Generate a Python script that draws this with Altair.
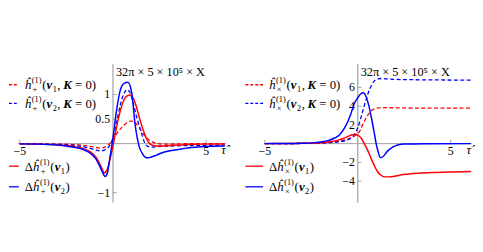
import altair as alt
import pandas as pd

# ---------------- data ----------------
# left panel: h_+
lp_tau_red_dash = [-5, -3, -2, -1.5, -1.0, -0.74, -0.5, -0.3, -0.18, 0, 0.2, 0.4, 0.6, 0.8, 1.0, 1.2, 1.4, 1.6, 1.8, 2.0, 2.3, 2.6, 3, 4, 6]
lp_val_red_dash = [0, -0.01, -0.02, -0.04, -0.07, -0.09, -0.08, -0.04, 0, 0.08, 0.2, 0.3, 0.38, 0.44, 0.46, 0.42, 0.33, 0.21, 0.12, 0.06, 0.01, -0.01, -0.01, 0.0, 0.0]

lp_tau_blue_dash = [-5, -4, -3, -2, -1.5, -1.0, -0.65, -0.4, -0.2, -0.12, 0, 0.2, 0.4, 0.6, 0.75, 0.9, 1.1, 1.3, 1.5, 1.7, 1.9, 2.1, 2.4, 3, 4, 5, 6]
lp_val_blue_dash = [-0.003, -0.006, -0.015, -0.04, -0.07, -0.12, -0.15, -0.12, -0.05, 0, 0.12, 0.45, 0.8, 1.03, 1.1, 1.05, 0.8, 0.5, 0.25, 0.02, -0.06, -0.07, -0.06, -0.05, -0.04, -0.035, -0.03]

lp_tau_red = [-5, -4, -3, -2.5, -2, -1.6, -1.2, -0.9, -0.6, -0.47, -0.3, -0.15, 0, 0.2, 0.4, 0.6, 0.8, 0.95, 1.2, 1.4, 1.6, 1.8, 2.0, 2.3, 2.6, 3, 3.5, 4, 5, 6]
lp_val_red = [-0.005, -0.01, -0.025, -0.04, -0.07, -0.1, -0.17, -0.28, -0.5, -0.6, -0.52, -0.3, -0.05, 0.35, 0.68, 0.9, 0.98, 0.99, 0.82, 0.55, 0.3, 0.1, -0.01, -0.05, -0.05, -0.04, -0.03, -0.02, -0.01, -0.01]

lp_tau_blue = [-5, -4, -3, -2.5, -2, -1.6, -1.2, -0.9, -0.6, -0.42, -0.3, -0.15, 0, 0.2, 0.4, 0.6, 0.8, 1.0, 1.2, 1.4, 1.6, 1.8, 2.0, 2.3, 2.6, 3, 3.5, 4, 5, 6]
lp_val_blue = [-0.005, -0.01, -0.03, -0.05, -0.08, -0.12, -0.2, -0.32, -0.55, -0.67, -0.6, -0.25, 0.12, 0.7, 1.1, 1.23, 1.25, 1.05, 0.35, -0.05, -0.22, -0.29, -0.28, -0.24, -0.19, -0.15, -0.12, -0.09, -0.06, -0.05]

# right panel: h_x
rp_tau_red_dash = [-5, -4, -3, -2, -1.4, -1.0, -0.7, -0.4, -0.18, 0, 0.13, 0.26, 0.4, 0.53, 0.66, 0.79, 0.92, 1.05, 1.25, 1.5, 2, 3, 4, 6.1]
rp_val_red_dash = [0, 0.0, 0.02, 0.06, 0.15, 0.28, 0.4, 0.6, 0.8, 1.05, 1.4, 2.0, 2.55, 3.0, 3.35, 3.6, 3.72, 3.8, 3.84, 3.84, 3.82, 3.8, 3.8, 3.8]

rp_tau_blue_dash = [-5, -4, -3, -2, -1.4, -1.0, -0.7, -0.4, -0.18, 0, 0.13, 0.26, 0.4, 0.53, 0.66, 0.79, 0.92, 1.1, 1.3, 1.6, 2, 3, 4, 6.1]
rp_val_blue_dash = [0, 0.0, 0.02, 0.06, 0.12, 0.2, 0.3, 0.55, 1.0, 1.7, 2.5, 3.4, 4.4, 5.2, 5.9, 6.4, 6.75, 6.92, 6.95, 6.9, 6.86, 6.82, 6.8, 6.78]

rp_tau_red = [-5, -4, -3, -2, -1.5, -1.0, -0.6, -0.3, -0.18, 0, 0.18, 0.35, 0.53, 0.7, 0.88, 1.05, 1.23, 1.46, 1.7, 1.93, 2.46, 3, 4, 5, 6.1]
rp_val_red = [0, 0.01, 0.03, 0.1, 0.2, 0.4, 0.7, 0.95, 1.0, 0.9, 0.6, 0.0, -0.7, -1.5, -2.3, -2.95, -3.35, -3.55, -3.55, -3.5, -3.3, -3.2, -3.08, -3.02, -2.98]

rp_tau_blue = [-5, -4, -3, -2.5, -2, -1.6, -1.24, -1.0, -0.7, -0.4, -0.2, 0, 0.15, 0.3, 0.45, 0.6, 0.75, 0.9, 1.0, 1.1, 1.22, 1.35, 1.6, 1.9, 2.2, 2.5, 3, 4, 6.1]
rp_val_blue = [0.0, 0.01, 0.04, 0.08, 0.18, 0.32, 0.6, 0.9, 1.7, 3.0, 4.2, 4.9, 5.3, 5.42, 5.0, 4.0, 2.6, 1.0, -0.1, -0.9, -1.5, -1.4, -0.8, -0.35, -0.12, -0.05, -0.03, -0.01, 0.0]

left_yticks = [1, 0.5, -1]
left_ytick_labels = ["1", "0.5", "\u22121"]
right_yticks = [6, 4, 2, -2, -4]
right_ytick_labels = ["6", "4", "2", "\u22122", "\u22124"]
xticks = [-5, 5]
xtick_labels = ["\u22125", "5"]
title_text = "32\u03c0 \u00d7 5 \u00d7 10\u2075 \u00d7 X"

# axis extents (data units)
left_axis_x = [-5.1, 6.05]
left_axis_y = [-1.2, 1.62]
right_axis_x = [-5.05, 6.1]
right_axis_y = [-6.3, 8.5]

# ---------------- layout ----------------
FONT = "Liberation Serif"
RED = "#ff0000"
BLUE = "#0000ff"
AXC = "#a0a0a0"
H = 232


def line_layer(xs, ys, color, dashed, xs_scale, ys_scale):
    df = pd.DataFrame({"t": xs, "v": ys})
    props = dict(color=color, strokeWidth=1.5 if not dashed else 1.3, interpolate="monotone")
    if dashed:
        props["strokeDash"] = [4, 2.5]
    return alt.Chart(df).mark_line(**props).encode(
        x=alt.X("t:Q", scale=xs_scale, axis=None),
        y=alt.Y("v:Q", scale=ys_scale, axis=None),
    )


def legend_layers(x_line0, x_line1, x_text, rows, sym):
    rules = []
    up, it, bi = [], [], []
    for (yc, color, dashed, kind, idx) in rows:
        df = pd.DataFrame({"a": [x_line0], "b": [x_line1], "y": [yc]})
        props = dict(color=color, strokeWidth=1.3)
        if dashed:
            props["strokeDash"] = [3, 2]
        rules.append(alt.Chart(df).mark_rule(**props).encode(
            x=alt.X("a:Q", scale=None), x2="b:Q", y=alt.Y("y:Q", scale=None)))
        s, s2 = 13, 8.5
        base = yc + 4.5
        x = x_text
        if kind == "delta":
            up.append((x, base, "\u0394", s))
            x += 8.3
        it.append((x, base, "h\u0302", s))
        x += 7.2
        up.append((x, base - 6, "(1)", s2))
        up.append((x + 0.8, base + 3, sym, s2))
        x += 10.6
        up.append((x, base, "(", s))
        x += 4.5
        bi.append((x, base, "v", s))
        x += 6.2
        up.append((x, base + 3, idx, s2))
        x += 4.8
        if kind == "delta":
            up.append((x, base, ")", s))
        else:
            up.append((x, base, ",", s))
            x += 6
            bi.append((x, base, "K", s))
            x += 12
            up.append((x, base, "= 0)", s))
    out = rules

    def txt(rows_, **kw):
        df = pd.DataFrame(rows_, columns=["x", "y", "txt", "s"])
        return alt.Chart(df).mark_text(font=FONT, align="left", baseline="alphabetic", color="black", **kw).encode(
            x=alt.X("x:Q", scale=None), y=alt.Y("y:Q", scale=None), text="txt:N",
            size=alt.Size("s:Q", scale=None, legend=None))
    out.append(txt(up))
    out.append(txt(it, fontStyle="italic"))
    out.append(txt(bi, fontStyle="italic", fontWeight="bold"))
    return out


def panel(W, xdom, ydom, curves, axis_x, axis_y, yt, ytl, title_y, tick_len_x, tick_len_y,
          leg, sym):
    xs = alt.Scale(domain=xdom, nice=False, zero=False)
    ys = alt.Scale(domain=ydom, nice=False, zero=False)
    layers = []
    ax_h = pd.DataFrame({"a": [axis_x[0]], "b": [axis_x[1]], "y": [0]})
    ax_v = pd.DataFrame({"a": [axis_y[0]], "b": [axis_y[1]], "x": [0]})
    layers.append(alt.Chart(ax_h).mark_rule(color=AXC, strokeWidth=1).encode(
        x=alt.X("a:Q", scale=xs, axis=None), x2="b:Q", y=alt.Y("y:Q", scale=ys, axis=None)))
    layers.append(alt.Chart(ax_v).mark_rule(color=AXC, strokeWidth=1.2).encode(
        y=alt.Y("a:Q", scale=ys, axis=None), y2="b:Q", x=alt.X("x:Q", scale=xs, axis=None)))
    yt_df = pd.DataFrame({"v": yt, "lab": ytl, "x0": [0] * len(yt), "x1": [tick_len_x] * len(yt)})
    layers.append(alt.Chart(yt_df).mark_rule(color=AXC, strokeWidth=1).encode(
        x=alt.X("x0:Q", scale=xs, axis=None), x2="x1:Q", y=alt.Y("v:Q", scale=ys, axis=None)))
    layers.append(alt.Chart(yt_df).mark_text(font=FONT, fontSize=12, align="right", baseline="middle", dx=-3, color="black").encode(
        x=alt.X("x0:Q", scale=xs, axis=None), y=alt.Y("v:Q", scale=ys, axis=None), text="lab:N"))
    xt_df = pd.DataFrame({"v": xticks, "lab": xtick_labels, "y0": [0, 0], "y1": [tick_len_y, tick_len_y]})
    layers.append(alt.Chart(xt_df).mark_rule(color=AXC, strokeWidth=1).encode(
        x=alt.X("v:Q", scale=xs, axis=None), y=alt.Y("y0:Q", scale=ys, axis=None), y2="y1:Q"))
    layers.append(alt.Chart(xt_df).mark_text(font=FONT, fontSize=12, align="center", baseline="top", dy=3, color="black").encode(
        x=alt.X("v:Q", scale=xs, axis=None), y=alt.Y("y0:Q", scale=ys, axis=None), text="lab:N"))
    tau_df = pd.DataFrame({"x": [axis_x[1]], "y": [0], "lab": ["\u03c4\u0302"]})
    layers.append(alt.Chart(tau_df).mark_text(font=FONT, fontSize=13, fontStyle="italic", align="right", baseline="top", dy=1, color="black").encode(
        x=alt.X("x:Q", scale=xs, axis=None), y=alt.Y("y:Q", scale=ys, axis=None), text="lab:N"))
    t_df = pd.DataFrame({"x": [0], "y": [title_y], "lab": [title_text]})
    layers.append(alt.Chart(t_df).mark_text(font=FONT, fontSize=12.5, align="left", baseline="middle", dx=3, color="black").encode(
        x=alt.X("x:Q", scale=xs, axis=None), y=alt.Y("y:Q", scale=ys, axis=None), text="lab:N"))
    for (cx, cy, col, dashed) in curves:
        layers.append(line_layer(cx, cy, col, dashed, xs, ys))
    layers += legend_layers(*leg, sym=sym)
    return alt.layer(*layers).properties(width=W, height=H)


WL, WR = 232, 235
left = panel(
    WL, [-106 / 19, (WL - 106) / 19], [(136 - H) / 50, 136 / 50],
    [(lp_tau_red_dash, lp_val_red_dash, RED, True), (lp_tau_blue_dash, lp_val_blue_dash, BLUE, True),
     (lp_tau_red, lp_val_red, RED, False), (lp_tau_blue, lp_val_blue, BLUE, False)],
    left_axis_x, left_axis_y, left_yticks, left_ytick_labels, 1.46, 0.2, 0.08,
    (0, 10, 16, [(76, RED, True, "k", "1"), (95, BLUE, True, "k", "2"),
                 (159, RED, False, "delta", "1"), (180, BLUE, False, "delta", "2")]),
    sym="+",
)
right = panel(
    WR, [-123.5 / 18.95, (WR - 123.5) / 18.95], [(136 - H) / 9.55, 136 / 9.55],
    [(rp_tau_red_dash, rp_val_red_dash, RED, True), (rp_tau_blue_dash, rp_val_blue_dash, BLUE, True),
     (rp_tau_red, rp_val_red, RED, False), (rp_tau_blue, rp_val_blue, BLUE, False)],
    right_axis_x, right_axis_y, right_yticks, right_ytick_labels, 7.64, 0.2, 0.4,
    (9, 27, 33, [(76, RED, True, "k", "1"), (95, BLUE, True, "k", "2"),
                 (159, RED, False, "delta", "1"), (180, BLUE, False, "delta", "2")]),
    sym="\u00d7",
)

chart = alt.hconcat(left, right, spacing=0).properties(padding=0).configure_view(stroke=None)

chart.save("out.html", embed_options={"renderer": "svg", "actions": False})
